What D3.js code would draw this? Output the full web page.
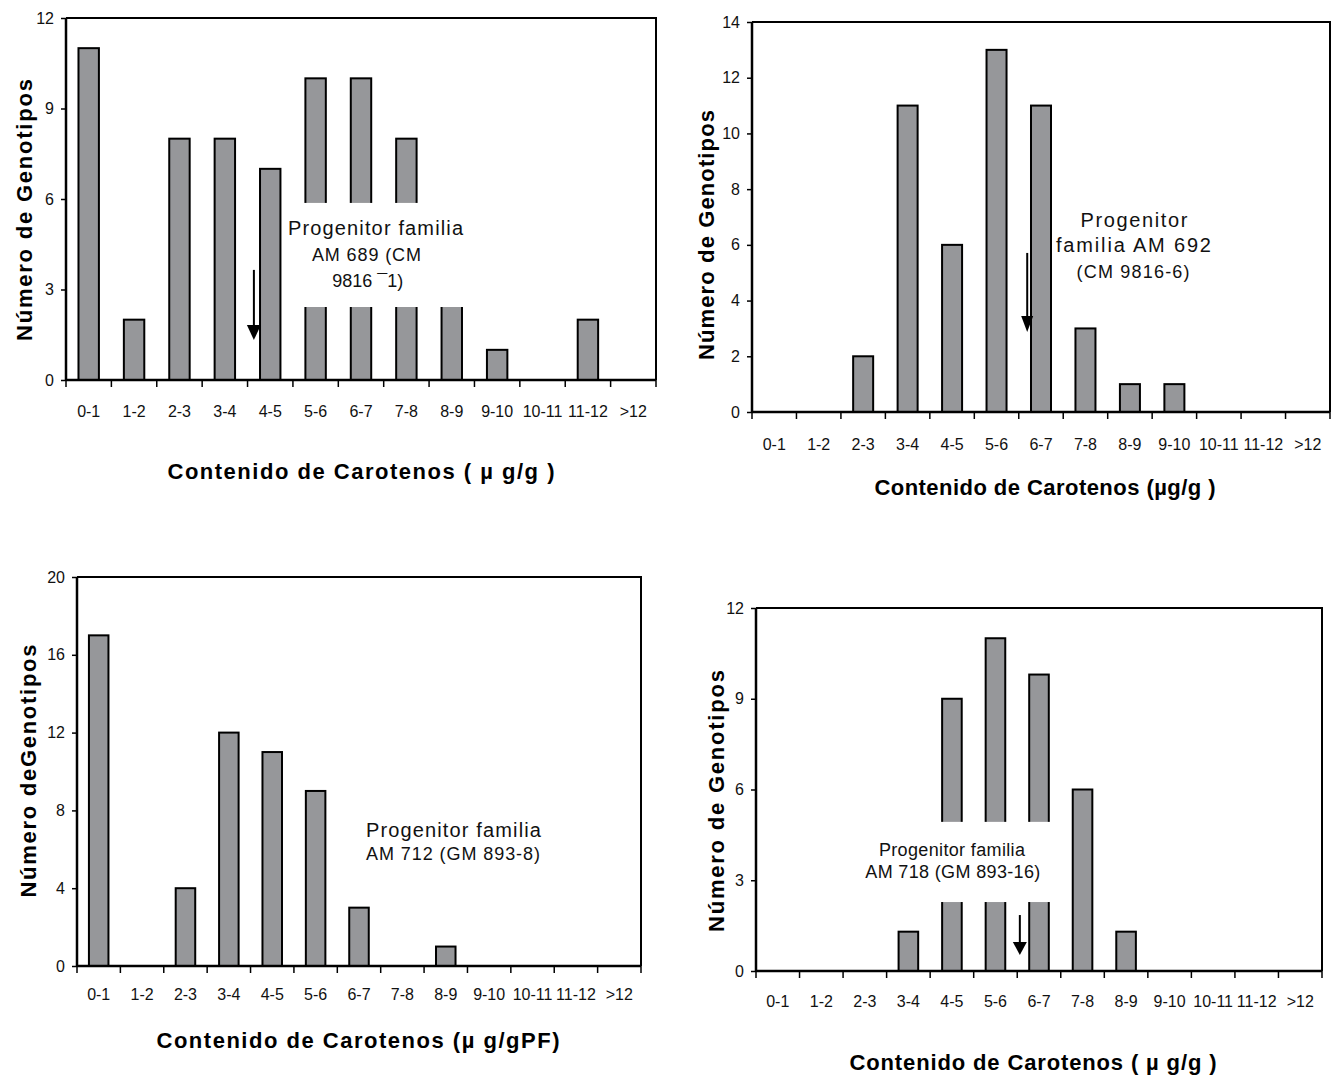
<!DOCTYPE html>
<html>
<head>
<meta charset="utf-8">
<script src="https://cdn.jsdelivr.net/npm/d3@7"></script>
<style>
  body { margin: 0; background: #fff; }
  svg { display: block; font-family: "Liberation Sans", Arial, sans-serif; }
</style>
</head>
<body>
<svg id="chart" width="1331" height="1078"></svg>
<script>
// Clases de contenido de carotenos (eje x, comun a los 4 graficos)
const categories = ["0-1", "1-2", "2-3", "3-4", "4-5", "5-6", "6-7", "7-8", "8-9", "9-10", "10-11", "11-12", ">12"];

// Numero de genotipos por clase, una serie por familia
const countsAM689 = [11, 2, 8, 8, 7, 10, 10, 8, 5, 1, 0, 2, 0];
const countsAM692 = [0, 0, 2, 11, 6, 13, 11, 3, 1, 1, 0, 0, 0];
const countsAM712 = [17, 0, 4, 12, 11, 9, 3, 0, 1, 0, 0, 0, 0];
const countsAM718 = [0, 0, 0, 1.3, 9, 11, 9.8, 6, 1.3, 0, 0, 0, 0];

// Marcas del eje y
const yTicksAM689 = [0, 3, 6, 9, 12];
const yTicksAM692 = [0, 2, 4, 6, 8, 10, 12, 14];
const yTicksAM712 = [0, 4, 8, 12, 16, 20];
const yTicksAM718 = [0, 3, 6, 9, 12];

// Textos de las anotaciones
const notesAM689 = ["Progenitor familia", "AM 689 (CM", "9816 \u00AF1)"];
const notesAM692 = ["Progenitor", "familia AM 692", "(CM 9816-6)"];
const notesAM712 = ["Progenitor familia", "AM 712 (GM 893-8)"];
const notesAM718 = ["Progenitor familia", "AM 718 (GM 893-16)"];

const svg = d3.select("#chart");

const panels = [
    {
        values: countsAM689, yTicks: yTicksAM689,
        frame: { left: 66, top: 18, right: 656, bottom: 380 }, tickLabelY: 417,
        yLabel: { text: "Número de Genotipos", x: 32, cy: 210, len: 262 },
        xTitle: { text: "Contenido de Carotenos ( \u00B5 g/g )", cx: 361, y: 479, len: 387 },
        box: { x0: 4.8, x1: 8.95, y0: 2.42, y1: 5.87 },
        arrow: { x: 4.14, top: 3.65, tip: 1.33, head: 15, half: 7 },
        notes: [
            { t: notesAM689[0], x: 6.82, y: 4.81, size: 20, len: 175 },
            { t: notesAM689[1], x: 6.62, y: 3.94, size: 18, len: 109 },
            { t: notesAM689[2], x: 6.65, y: 3.08, size: 18 }
        ]
    },
    {
        values: countsAM692, yTicks: yTicksAM692,
        frame: { left: 752, top: 22, right: 1330, bottom: 412 }, tickLabelY: 450,
        yLabel: { text: "Número de Genotipos", x: 714, cy: 235, len: 250 },
        xTitle: { text: "Contenido de Carotenos (\u00B5g/g )", cx: 1045, y: 495, len: 341 },
        box: null,
        arrow: { x: 6.19, top: 5.71, tip: 2.87, head: 16, half: 6 },
        notes: [
            { t: notesAM692[0], x: 8.59, y: 6.64, size: 20, len: 107 },
            { t: notesAM692[1], x: 8.58, y: 5.74, size: 20, len: 155 },
            { t: notesAM692[2], x: 8.57, y: 4.81, size: 18, len: 113 }
        ]
    },
    {
        values: countsAM712, yTicks: yTicksAM712,
        frame: { left: 77, top: 577, right: 641, bottom: 966 }, tickLabelY: 1000,
        yLabel: { text: "Número deGenotipos", x: 36, cy: 771, len: 253 },
        xTitle: { text: "Contenido de Carotenos (\u00B5 g/gPF)", cx: 358, y: 1048, len: 403 },
        box: null,
        arrow: null,
        notes: [
            { t: notesAM712[0], x: 6.66, y: 6.63, size: 20, len: 175, anchor: "start" },
            { t: notesAM712[1], x: 6.66, y: 5.45, size: 18, len: 174, anchor: "start" }
        ]
    },
    {
        values: countsAM718, yTicks: yTicksAM718,
        frame: { left: 756, top: 608, right: 1322, bottom: 971 }, tickLabelY: 1007,
        yLabel: { text: "Número de Genotipos", x: 724, cy: 801, len: 262 },
        xTitle: { text: "Contenido de Carotenos ( \u00B5 g/g )", cx: 1033, y: 1070, len: 367 },
        box: { x0: 2.39, x1: 6.8, y0: 2.28, y1: 4.93 },
        arrow: { x: 6.06, top: 1.85, tip: 0.53, head: 13, half: 7 },
        notes: [
            { t: notesAM718[0], x: 4.50, y: 3.80, size: 18, len: 146 },
            { t: notesAM718[1], x: 4.52, y: 3.07, size: 18, len: 175 }
        ]
    }
];

function drawPanel(p) {
    const f = p.frame;
    const g = svg.append("g");

    // escala de bandas para las clases y escala continua para el contenido (anotaciones)
    const x = d3.scaleBand().domain(categories).range([f.left, f.right]).padding(0);
    const xc = d3.scaleLinear().domain([0, categories.length]).range([f.left, f.right]);
    const y = d3.scaleLinear().domain([0, d3.max(p.yTicks)]).range([f.bottom, f.top]);
    const barW = x.bandwidth() * 0.45;

    // Barras
    g.selectAll("rect.bar")
        .data(p.values)
        .join("rect")
        .attr("class", "bar")
        .attr("x", (d, i) => x(categories[i]) + (x.bandwidth() - barW) / 2)
        .attr("y", d => y(d))
        .attr("width", barW)
        .attr("height", d => y(0) - y(d))
        .attr("fill", "#96979a")
        .attr("stroke", "#000")
        .attr("stroke-width", 2);

    // Recuadro blanco detras del texto
    if (p.box) {
        g.append("rect")
            .attr("x", xc(p.box.x0))
            .attr("y", y(p.box.y1))
            .attr("width", xc(p.box.x1) - xc(p.box.x0))
            .attr("height", y(p.box.y0) - y(p.box.y1))
            .attr("fill", "#fff");
    }

    // Marco superior y derecho
    g.append("path")
        .attr("d", `M${f.left},${f.top}H${f.right}V${f.bottom}`)
        .attr("fill", "none")
        .attr("stroke", "#000")
        .attr("stroke-width", 2);

    // Eje y
    const yAxis = g.append("g")
        .attr("transform", `translate(${f.left},0)`)
        .call(d3.axisLeft(y).tickValues(p.yTicks).tickSize(5).tickPadding(7).tickFormat(d3.format("d")));
    yAxis.select(".domain").attr("stroke-width", 2.5).attr("d", `M0,${f.top}V${f.bottom}`);
    yAxis.selectAll(".tick line").attr("stroke-width", 1.5);
    yAxis.selectAll("text").style("font-size", "16px").attr("fill", "#111");

    // Eje x: marcas en los limites de las clases
    const bounds = d3.range(categories.length + 1);
    g.append("line")
        .attr("x1", f.left).attr("x2", f.right)
        .attr("y1", f.bottom).attr("y2", f.bottom)
        .attr("stroke", "#000").attr("stroke-width", 2.5);
    g.selectAll("line.xtick")
        .data(bounds)
        .join("line")
        .attr("class", "xtick")
        .attr("x1", d => xc(d)).attr("x2", d => xc(d))
        .attr("y1", f.bottom).attr("y2", f.bottom + 7)
        .attr("stroke", "#000").attr("stroke-width", 1.5);
    g.selectAll("text.xlab")
        .data(categories)
        .join("text")
        .attr("class", "xlab")
        .attr("x", d => x(d) + x.bandwidth() / 2)
        .attr("y", p.tickLabelY)
        .attr("text-anchor", "middle")
        .style("font-size", "16px")
        .attr("fill", "#111")
        .text(d => d);

    // Titulos de ejes
    g.append("text")
        .attr("transform", `translate(${p.yLabel.x},${p.yLabel.cy}) rotate(-90)`)
        .attr("text-anchor", "middle")
        .attr("textLength", p.yLabel.len)
        .attr("lengthAdjust", "spacing")
        .style("font-size", "22px")
        .style("font-weight", "bold")
        .text(p.yLabel.text);
    g.append("text")
        .attr("x", p.xTitle.cx)
        .attr("y", p.xTitle.y)
        .attr("text-anchor", "middle")
        .attr("textLength", p.xTitle.len)
        .attr("lengthAdjust", "spacing")
        .style("font-size", "22px")
        .style("font-weight", "bold")
        .text(p.xTitle.text);

    // Anotaciones
    g.selectAll("text.note")
        .data(p.notes)
        .join("text")
        .attr("class", "note")
        .attr("x", d => xc(d.x))
        .attr("y", d => y(d.y))
        .attr("text-anchor", d => d.anchor || "middle")
        .attr("textLength", d => d.len || null)
        .attr("lengthAdjust", "spacing")
        .style("font-size", d => d.size + "px")
        .attr("fill", "#111")
        .text(d => d.t);

    // Flecha del progenitor
    if (p.arrow) {
        const a = p.arrow;
        const ax = xc(a.x), tipY = y(a.tip);
        g.append("line")
            .attr("x1", ax).attr("x2", ax)
            .attr("y1", y(a.top)).attr("y2", tipY - a.head + 2)
            .attr("stroke", "#000").attr("stroke-width", 2);
        g.append("path")
            .attr("d", `M${ax - a.half},${tipY - a.head}L${ax + a.half},${tipY - a.head}L${ax},${tipY}Z`)
            .attr("fill", "#000");
    }
}

panels.forEach(drawPanel);
</script>
</body>
</html>
